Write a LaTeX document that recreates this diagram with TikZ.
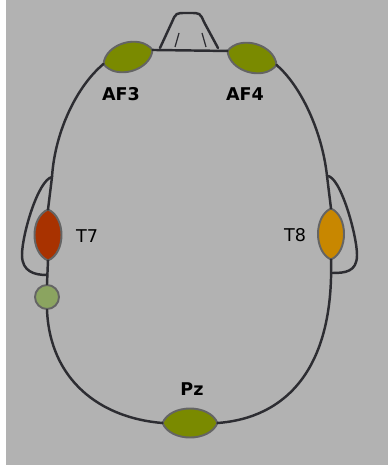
\documentclass[tikz,border=0pt]{standalone}
\usepackage{fontspec}
\setmainfont{DejaVu Sans}
\usepackage{tikz}
\usetikzlibrary{shapes.geometric}
\usepackage{xcolor}
\definecolor{bgGrey}{RGB}{178,178,178}
\definecolor{headLine}{RGB}{45,45,50}
\definecolor{rimGrey}{RGB}{100,100,100}
\definecolor{oliveElec}{RGB}{122,138,0}
\definecolor{redElec}{RGB}{168,50,0}
\definecolor{goldElec}{RGB}{200,135,0}
\definecolor{refGreen}{RGB}{139,164,96}
\tikzset{
  elec/.style={ellipse,inner sep=0pt,outer sep=0pt},
  elecline/.style={draw=rimGrey,line width=1.1pt},
  head/.style={draw=headLine,line width=1.4pt,line cap=round},
  lbl/.style={font=\bfseries,text=black,inner sep=0pt},
  lbllight/.style={text=black,inner sep=0pt}
}
% name, centre, length, width, angle, fill
\newcommand{\electrode}[6]{%
  \node[elec,minimum width=#3*0.02cm,minimum height=#4*0.02cm,rotate=#5] (#1) at #2 {};
  \draw[elecline,fill=#6,shift={#2},rotate=#5] (-#3/2,0) .. controls (-#3*0.35,#4*2/3) and (#3*0.35,#4*2/3) .. (#3/2,0) .. controls (#3*0.35,-#4*2/3) and (-#3*0.35,-#4*2/3) .. cycle;}

\begin{document}
\begin{tikzpicture}[x=0.02cm,y=-0.02cm]
\useasboundingbox (0,0) rectangle (388,465);
\fill[bgGrey] (6,0) rectangle (388,465);
% nose
\draw[head] (160,48) -- (172,22) .. controls (176,13) .. (186,13) -- (190,13) .. controls (200,13) .. (204,22) -- (218,48);
\draw[headLine,line width=0.7pt] (179,33) .. controls (177,40) .. (175,47) (202,33) .. controls (204,40) .. (206,47);
% ears and electrodes
\coordinate (earl) at (52,177);
\coordinate (earlb) at (47,275);
\coordinate (earr) at (327,176);
\coordinate (earrb) at (332,273);
\draw[head] (earl) .. controls (38,180) and (22,235) .. (22,255) .. controls (22,272) and (35,275) .. (earlb);
\draw[head] (earr) .. controls (340,175) and (357,235) .. (357,255) .. controls (357,272) and (345,273) .. (earrb);
\electrode{af3}{(128,57)}{51}{29}{16}{oliveElec}
\electrode{af4}{(252,58)}{51}{29}{-16}{oliveElec}
\electrode{t7}{(48,235)}{51}{27}{90}{redElec}
\electrode{t8}{(331,234)}{51}{26}{90}{goldElec}
\electrode{pz}{(190,423)}{55}{29}{0}{oliveElec}
\node[circle,draw=rimGrey,line width=1.1pt,fill=refGreen,minimum size=24*0.02cm,inner sep=0pt] (ref) at (47,297) {};
% head outline
\draw[head] (af3.east) -- (af4.west);
\draw[head] (af3.west) .. controls (78,85) and (55,130) .. (earl) -- (t7.east);
\draw[head] (t7.west) -- (ref.north);
\draw[head] (ref.south) .. controls (50,380) and (100,418) .. (pz.west);
\draw[head] (af4.east) .. controls (300,85) and (322,130) .. (earr) -- (t8.east);
\draw[head] (t8.west) .. controls (334,370) and (285,418) .. (pz.east);
% labels
\node[lbl] (af3l) at (121,94) {AF3};
\node[lbl] (af4l) at (245,94) {AF4};
\node[lbllight] (t7l) at (87,236) {T7};
\node[lbllight] (t8l) at (295,235) {T8};
\node[lbl] (pzl) at (192,389) {Pz};
\end{tikzpicture}
\end{document}
